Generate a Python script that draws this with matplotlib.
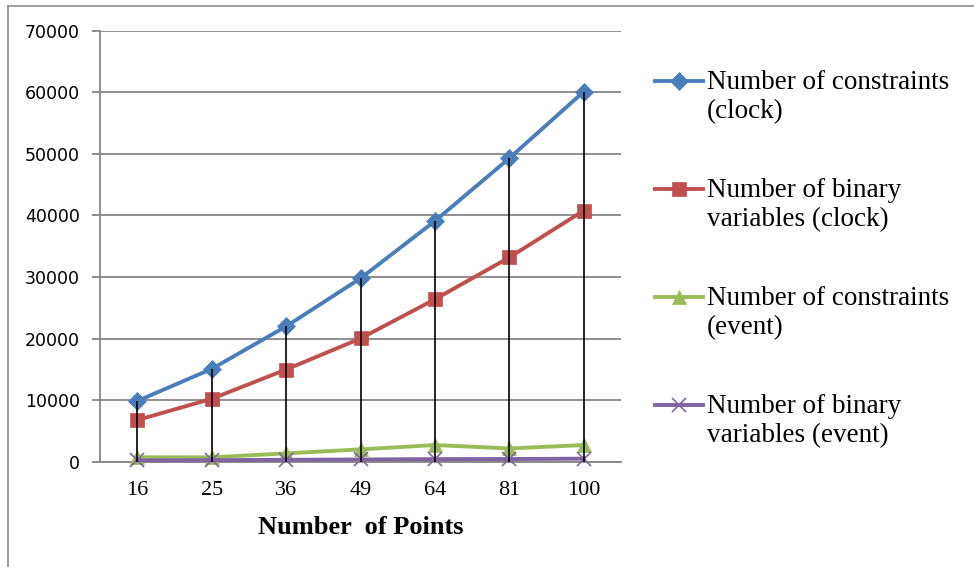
import matplotlib
matplotlib.use("Agg")
import matplotlib.pyplot as plt
from matplotlib.lines import Line2D

points = ["16", "25", "36", "49", "64", "81", "100"]
cons_clock = [9900, 15100, 22000, 29800, 39100, 49300, 60100]
bin_clock = [6800, 10250, 15000, 20050, 26400, 33200, 40800]
cons_event = [760, 760, 1400, 2050, 2750, 2200, 2750]
bin_event = [260, 290, 360, 410, 470, 480, 540]

labels = [("Number of constraints", "(clock)"),
          ("Number of binary", "variables (clock)"),
          ("Number of constraints", "(event)"),
          ("Number of binary", "variables (event)")]
colors = ["#4A7EBB", "#C0504D", "#9BBB59", "#8064A2"]
markers = ["D", "s", "^", "x"]
msizes = [9.5, 10.5, 10.5, 10]

W, H = 974, 567
fig = plt.figure(figsize=(W / 100, H / 100), dpi=100)
ax = fig.add_axes([100 / W, 1 - 462 / H, 521 / W, (462 - 30.6) / H])

x = list(range(len(points)))
series = [cons_clock, bin_clock, cons_event, bin_event]
for s, c, m, ms in zip(series, colors, markers, msizes):
    ax.plot(x, s, color=c, lw=2.8, marker=m, markersize=ms,
            markeredgewidth=1.2 if m == "x" else 0.5, markeredgecolor=c,
            solid_joinstyle="round", clip_on=False, zorder=3)

# drop lines
tops = [max(v) for v in zip(*series)]
ax.vlines(x, 0, tops, color="black", lw=1.2, zorder=4)

grid_c = "#868686"
ax.set_xlim(-0.5, len(points) - 0.5)
ax.set_ylim(0, 70000)
ax.set_yticks(range(0, 70001, 10000))
ax.set_xticks(x)
ax.set_xticklabels(points, family="Liberation Serif", fontsize=16)
for t in ax.get_yticklabels():
    t.set_family("DejaVu Sans")
    t.set_fontsize(12.5)
ax.yaxis.grid(True, color=grid_c, lw=1.3)
ax.set_axisbelow(True)
for side in ["top", "right"]:
    ax.spines[side].set_visible(False)
for side in ["left", "bottom"]:
    ax.spines[side].set_color(grid_c)
    ax.spines[side].set_linewidth(1.3)
ax.tick_params(axis="y", length=6, width=1.3, color=grid_c, pad=8.5)
ax.tick_params(axis="x", length=0, pad=14)

ax.set_xlabel("Number  of Points", family="Liberation Serif", fontsize=19,
              fontweight="bold")
ax.xaxis.set_label_coords(0.5, (462 - 516) / (462 - 30.6))

# legend drawn by hand so the marker sits on the first line
for i, ((l1, l2), c, m, ms) in enumerate(zip(labels, colors, markers, msizes)):
    yp = 81 + 108 * i
    fig.add_artist(Line2D([655 / W, 703 / W], [1 - yp / H, 1 - yp / H],
                          color=c, lw=2.8))
    fig.add_artist(Line2D([679 / W], [1 - yp / H], color=c, marker=m,
                          markersize=ms, markeredgecolor=c,
                          markeredgewidth=1.2 if m == "x" else 0.5))
    fig.text(707 / W, 1 - (yp + 8) / H, l1, family="Liberation Serif",
             fontsize=19.5, va="baseline")
    fig.text(707 / W, 1 - (yp + 37) / H, l2, family="Liberation Serif",
             fontsize=19.5, va="baseline")

# chart border
fig.add_artist(Line2D([8 / W, 8 / W], [1 - 6 / H, 0], color="#8c8c8c", lw=1.2))
fig.add_artist(Line2D([8 / W, 1], [1 - 6 / H, 1 - 6 / H], color="#8c8c8c", lw=1.2))

fig.savefig("out.png", dpi=100)
